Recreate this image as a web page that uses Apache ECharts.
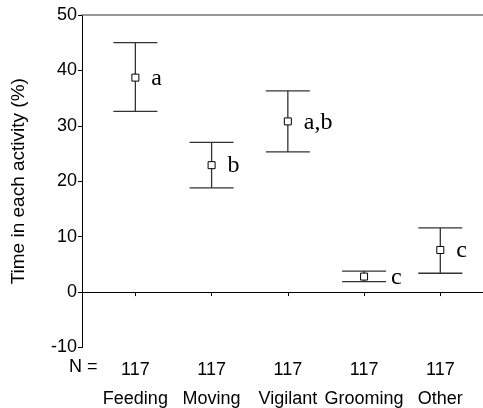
<!DOCTYPE html>
<html><head><meta charset="utf-8">
<script src="https://cdn.jsdelivr.net/npm/echarts@6/dist/echarts.min.js"></script>
<style>html,body{margin:0;padding:0;background:#fff}#c{width:483px;height:408px}</style>
</head><body><div id="c"></div>
<script>
const categories = ['Feeding', 'Moving', 'Vigilant', 'Grooming', 'Other'];
const nValues = ['117', '117', '117', '117', '117'];
const means = [38.7, 22.9, 30.8, 2.8, 7.6];
const lower = [32.6, 18.8, 25.3, 1.9, 3.4];
const upper = [45.0, 27.0, 36.3, 3.8, 11.6];
const groupLetters = ['a', 'b', 'a,b', 'c', 'c'];
const yTicks = { min: -10, max: 50, interval: 10 };

const data = categories.map((c, i) => [i + 1, means[i], lower[i], upper[i], groupLetters[i]]);
const chart = echarts.init(document.getElementById('c'));
const sans = 'Liberation Sans, Arial, sans-serif';
chart.setOption({
  animation: false,
  grid: { left: 82, top: 15, right: 0, bottom: 54, containLabel: false },
  xAxis: [{
    type: 'value', min: 0.3, max: 5.56, position: 'bottom',
    splitLine: { show: false },
    axisLine: { show: true, lineStyle: { color: '#000', width: 1 } },
    axisTick: { show: true, length: 4, inside: false, customValues: [1, 2, 3, 4, 5], lineStyle: { color: '#000' } },
    axisLabel: {
      customValues: [1, 2, 3, 4, 5], margin: 8,
      formatter: v => '{n|' + nValues[v - 1] + '}\n{c|' + categories[v - 1] + '}',
      rich: {
        n: { fontFamily: sans, fontSize: 18, color: '#000', lineHeight: 29, align: 'center' },
        c: { fontFamily: sans, fontSize: 18, color: '#000', lineHeight: 29, align: 'center' }
      }
    }
  }, {
    type: 'value', min: 0.3, max: 5.56, position: 'top',
    splitLine: { show: false }, axisTick: { show: false }, axisLabel: { show: false },
    axisLine: { show: true, lineStyle: { color: '#777', width: 1.5 } }
  }],
  yAxis: {
    type: 'value', min: yTicks.min, max: yTicks.max, interval: yTicks.interval,
    splitLine: { show: false },
    axisLine: { show: true, lineStyle: { color: '#000', width: 1 } },
    axisTick: { show: true, length: 4, lineStyle: { color: '#000' } },
    axisLabel: { fontFamily: sans, fontSize: 18, color: '#000', margin: 5 },
    name: 'Time in each activity (%)', nameLocation: 'middle', nameGap: 54,
    nameTextStyle: { fontFamily: sans, fontSize: 19, color: '#000' }
  },
  graphic: [{
    type: 'text', left: 69, top: 358,
    style: { text: 'N =', font: '18px ' + sans, fill: '#000' }
  }],
  series: [{
    type: 'custom',
    data: data,
    renderItem: function (params, api) {
      const x = api.value(0);
      const pm = api.coord([x, api.value(1)]);
      const pl = api.coord([x, api.value(2)]);
      const ph = api.coord([x, api.value(3)]);
      const cap = 22;
      const ls = { stroke: '#333', lineWidth: 1.3 };
      const span = pl[1] - ph[1];
      const off = span < 20 ? 27 : 16;
      return {
        type: 'group',
        children: [
          { type: 'line', shape: { x1: pm[0], y1: ph[1], x2: pm[0], y2: pl[1] }, style: ls },
          { type: 'line', shape: { x1: pm[0] - cap, y1: ph[1], x2: pm[0] + cap, y2: ph[1] }, style: ls },
          { type: 'line', shape: { x1: pm[0] - cap, y1: pl[1], x2: pm[0] + cap, y2: pl[1] }, style: ls },
          { type: 'rect', shape: { x: pm[0] - 3.5, y: pm[1] - 3.5, width: 7, height: 7 }, style: { fill: '#fff', stroke: '#000', lineWidth: 1 } },
          { type: 'text', x: pm[0] + off, y: pm[1] + 1, style: { text: api.value(4), font: '24px Liberation Serif, Times New Roman, serif', fill: '#000', verticalAlign: 'middle', align: 'left' } }
        ]
      };
    }
  }]
});
</script></body></html>
